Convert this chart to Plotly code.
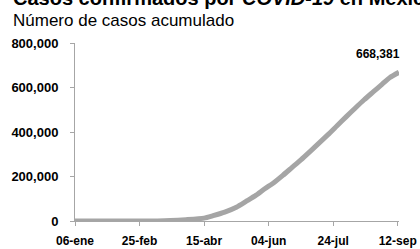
import plotly.graph_objects as go

dates = ["2020-01-06", "2020-02-01", "2020-02-25", "2020-03-10", "2020-03-20",
         "2020-04-01", "2020-04-15", "2020-04-22", "2020-05-01", "2020-05-10",
         "2020-05-18", "2020-05-25", "2020-06-01", "2020-06-08", "2020-06-15",
         "2020-06-22", "2020-06-29", "2020-07-06", "2020-07-13", "2020-07-20",
         "2020-07-27", "2020-08-03", "2020-08-10", "2020-08-17", "2020-08-24",
         "2020-08-31", "2020-09-06", "2020-09-13"]
cases = [0, 0, 100, 500, 2000,
         6000, 13000, 24000, 40000, 62000,
         90000, 115000, 145000, 172000, 205000,
         240000, 275000, 312000, 350000, 388000,
         428000, 468000, 507000, 545000, 580000,
         615000, 645000, 668381]

tick_vals = ["2020-01-06", "2020-02-25", "2020-04-15", "2020-06-04", "2020-07-24", "2020-09-12"]
tick_text = ["06-ene", "25-feb", "15-abr", "04-jun", "24-jul", "12-sep"]
y_ticks = [0, 200000, 400000, 600000, 800000]

title = "<b>Casos confirmados por <i>COVID-19</i> en México</b>"
subtitle = "Número de casos acumulado"
last_label = "<b>668,381</b>"

FONT = "Liberation Sans"
AX = "#a6a6a6"

fig = go.Figure()
fig.add_trace(go.Scatter(
    x=dates, y=cases, mode="lines",
    line=dict(color="#a5a5a5", width=5, shape="spline", smoothing=0.6),
    hoverinfo="skip", showlegend=False,
))

L, T, R, B = 75, 43, 21, 28
W, H = 420, 249
pw, ph = W - L - R, H - T - B

def px(xp):
    return (xp - L) / pw

def py(yp):
    return (H - B - yp) / ph

fig.update_layout(
    template="none",
    width=W, height=H,
    margin=dict(l=L, r=R, t=T, b=B, pad=0),
    paper_bgcolor="white", plot_bgcolor="white",
    font=dict(family=FONT, color="#000000", size=12),
    xaxis=dict(
        type="date", range=["2020-01-06", "2020-09-13"],
        tickvals=tick_vals, ticktext=tick_text, automargin=False,
        tickfont=dict(family=FONT, size=12, color="#000000", weight="bold"),
        showgrid=False, zeroline=False,
        showline=True, linecolor=AX, linewidth=1,
        ticks="outside", ticklen=4, tickcolor=AX, tickwidth=1,
        ticklabelstandoff=5,
    ),
    yaxis=dict(
        range=[0, 800000], tickvals=y_ticks, tickformat=",", automargin=False,
        tickfont=dict(family=FONT, size=13, color="#000000", weight="bold"),
        showgrid=False, zeroline=False,
        showline=True, linecolor=AX, linewidth=1,
        ticks="outside", ticklen=4, tickcolor=AX, tickwidth=1,
        ticklabelstandoff=9,
    ),
)

fig.add_annotation(
    text=title, xref="paper", yref="paper", x=px(11), y=py(11),
    xanchor="left", yanchor="bottom", showarrow=False,
    font=dict(family=FONT, size=20, color="#000000"),
)
fig.add_annotation(
    text=subtitle, xref="paper", yref="paper", x=px(11), y=py(20),
    xanchor="left", yanchor="middle", showarrow=False,
    font=dict(family=FONT, size=17, color="#000000"),
)
fig.add_annotation(
    text=last_label, x=dates[-1], y=cases[-1],
    xanchor="right", yanchor="bottom", xshift=3, yshift=9, showarrow=False,
    font=dict(family=FONT, size=12, color="#000000"),
)

fig.write_html(
    "out.html",
    config={"displayModeBar": False},
    post_script="document.body.style.margin='0px';document.body.style.overflow='hidden';",
)
